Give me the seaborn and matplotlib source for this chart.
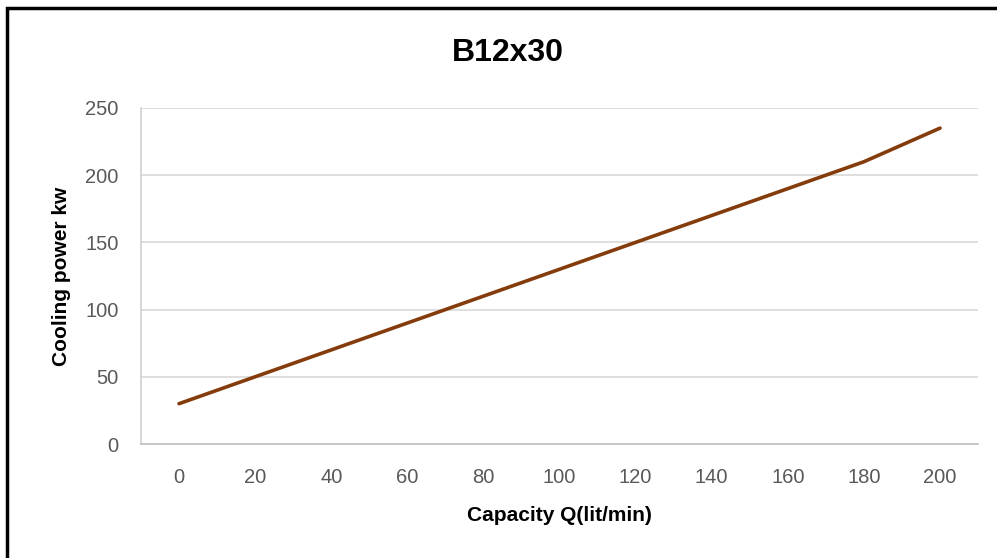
import matplotlib
matplotlib.use("Agg")
import matplotlib.pyplot as plt
import matplotlib.patches as mpatches
import pandas as pd
import seaborn as sns

sns.set_style("white")
plt.rcParams['font.family'] = ['Liberation Sans', 'DejaVu Sans']

# data
capacity = [0, 20, 40, 60, 80, 100, 120, 140, 160, 180, 200]
cooling_kw = [30, 50, 70, 90, 110, 130, 150, 170, 190, 210, 235]
yticks = [0, 50, 100, 150, 200, 250]

df = pd.DataFrame({"Capacity": capacity, "Cooling": cooling_kw})

fig = plt.figure(figsize=(9.97, 5.58), dpi=100)
ax = fig.add_axes([0.1414, 0.2043, 0.8396, 0.6022])

sns.lineplot(data=df, x="Capacity", y="Cooling", ax=ax, color="#843C0C", linewidth=2.6)

ax.set_xlim(-10, 210)
ax.set_ylim(0, 250)
ax.set_xticks(capacity)
ax.set_yticks(yticks)
ax.tick_params(length=0, labelsize=14.5, labelcolor="#595959")
ax.tick_params(axis="y", pad=16)
ax.tick_params(axis="x", pad=17)
ax.grid(axis="y", color="#d9d9d9", linewidth=1.2)
ax.set_axisbelow(True)
for side in ["top", "right"]:
    ax.spines[side].set_visible(False)
ax.spines["left"].set_color("#d0d0d0")
ax.spines["bottom"].set_color("#bfbfbf")
ax.spines["left"].set_linewidth(1.2)
ax.spines["bottom"].set_linewidth(1.2)

ax.set_xlabel("Capacity Q(lit/min)", fontsize=15, fontweight="bold", color="black", labelpad=14)
ax.set_ylabel("Cooling power kw", fontsize=15, fontweight="bold", color="black", labelpad=10)
fig.text(0.509, 0.905, "B12x30", ha="center", va="center", fontsize=23, fontweight="bold", color="black")

# outer frame
fig.patches.append(mpatches.Rectangle((0.007, -0.05), 1.1, 1.036, transform=fig.transFigure,
                                      fill=False, edgecolor="black", linewidth=2.5))

fig.savefig("out.png", dpi=100)
